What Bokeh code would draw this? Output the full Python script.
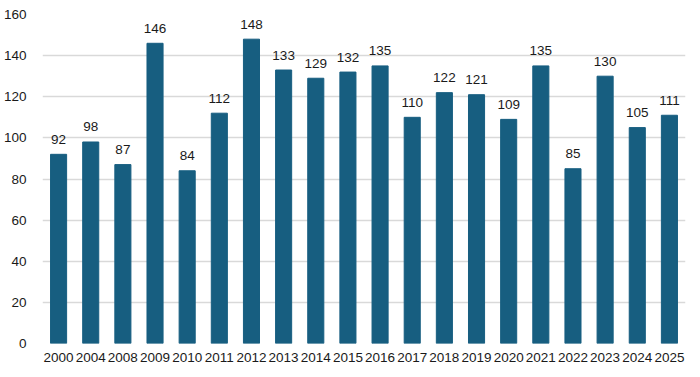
from bokeh.plotting import figure
from bokeh.models import ColumnDataSource, Range1d, FactorRange, SingleIntervalTicker
from bokeh.core.properties import value
from bokeh.embed import file_html
from bokeh.resources import INLINE

years = ["2000", "2004", "2008", "2009", "2010", "2011", "2012", "2013", "2014", "2015",
         "2016", "2017", "2018", "2019", "2020", "2021", "2022", "2023", "2024", "2025"]
counts = [92, 98, 87, 146, 84, 112, 148, 133, 129, 132,
          135, 110, 122, 121, 109, 135, 85, 130, 105, 111]

src = ColumnDataSource(dict(x=years, y=counts, lbl=[str(v) for v in counts]))

p = figure(width=700, height=377, x_range=FactorRange(*years, range_padding=0),
           y_range=Range1d(0, 160), output_backend="svg", toolbar_location=None,
           min_border_left=40, min_border_right=15, min_border_top=14, min_border_bottom=34)
p.outline_line_color = None
p.background_fill_color = "white"

p.vbar(x="x", top="y", width=0.5, source=src, fill_color="#175E80", line_color="#175E80")
p.text(x="x", y="y", text="lbl", source=src, text_align="center", text_baseline="alphabetic",
       y_offset=-15, text_font=value("Liberation Sans"), text_font_size="13.5px", text_color="#1a1a1a")

p.yaxis.ticker = SingleIntervalTicker(interval=20)
for ax in (p.xaxis[0], p.yaxis[0]):
    ax.axis_line_color = None
    ax.major_tick_line_color = None
    ax.minor_tick_line_color = None
    ax.major_label_text_font = "Liberation Sans"
    ax.major_label_text_font_size = "13.5px"
    ax.major_label_text_color = "#1a1a1a"
p.yaxis.major_label_standoff = 10
p.xaxis.major_label_standoff = 3
p.xgrid.grid_line_color = None
p.ygrid.grid_line_color = "#d9d9d9"
p.ygrid.grid_line_width = 1.5

open("out.html", "w").write(file_html(p, INLINE))
